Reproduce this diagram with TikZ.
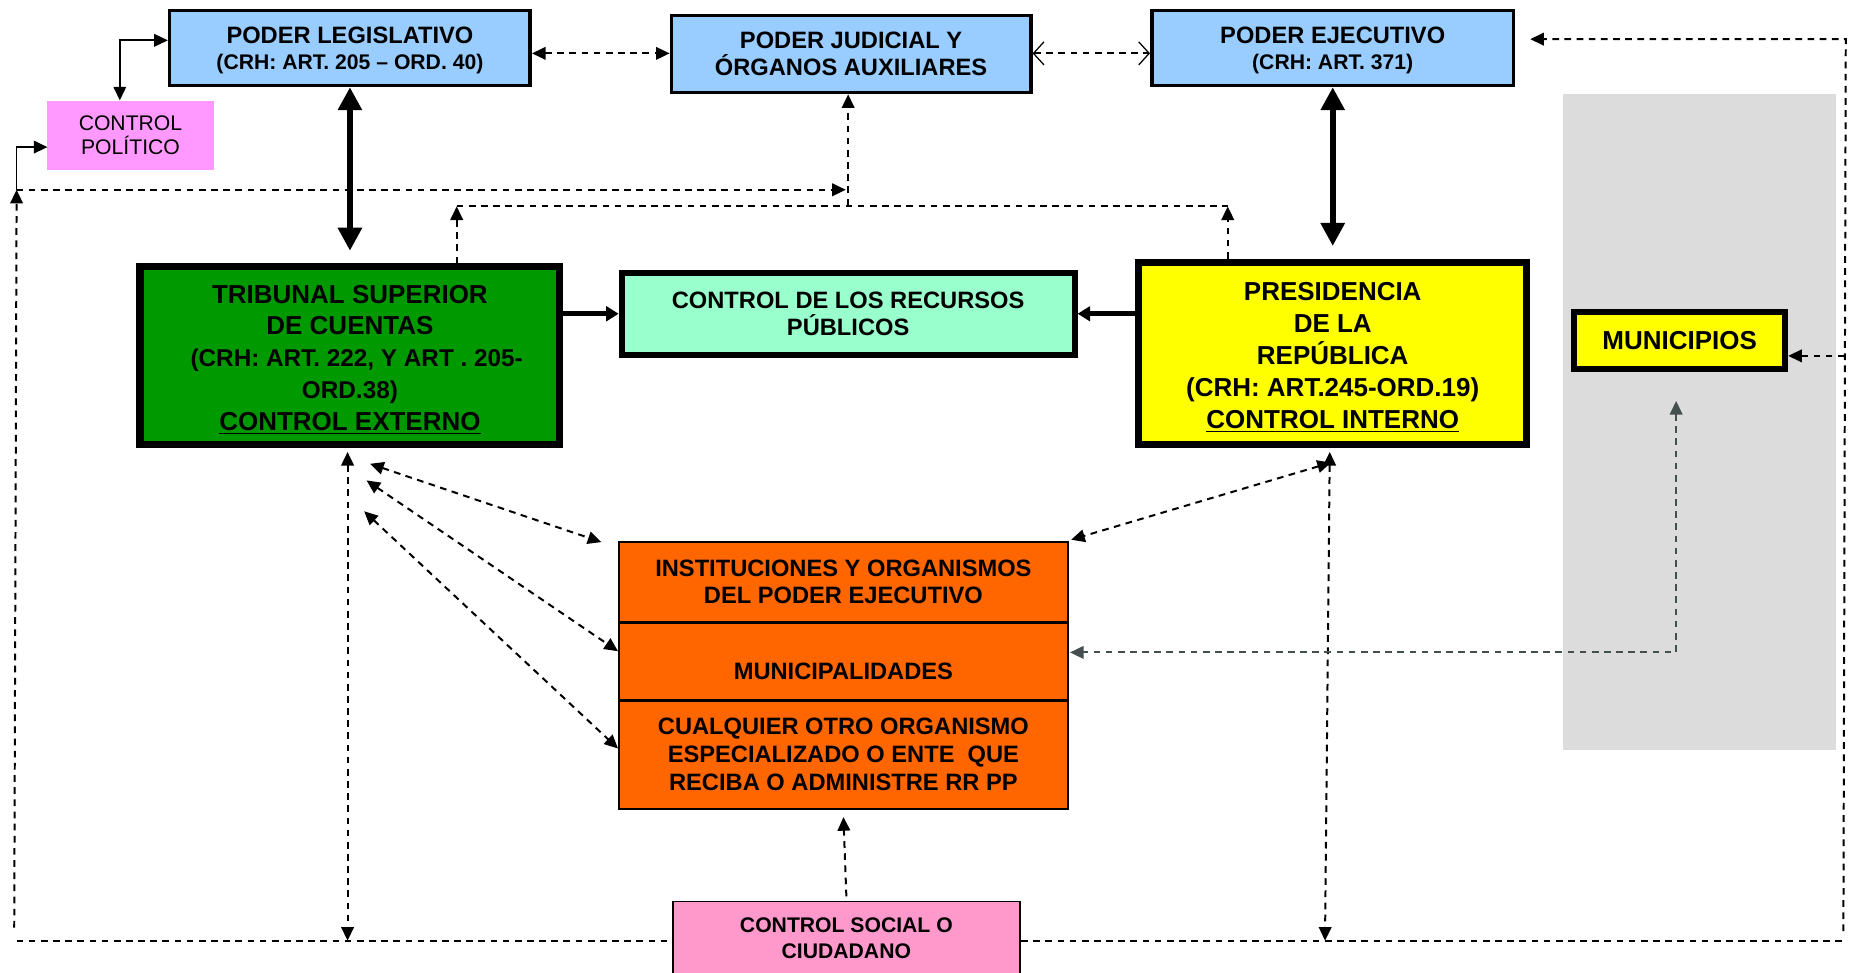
\documentclass[tikz,border=0pt]{standalone}
\usepackage{fontspec}
\setmainfont{Liberation Sans}
\usetikzlibrary{arrows.meta}
\definecolor{lblue}{HTML}{99CCFF}
\definecolor{cpink}{HTML}{FF99FF}
\definecolor{spink}{HTML}{FF99CC}
\definecolor{tgreen}{HTML}{009900}
\definecolor{mint}{HTML}{99FFCC}
\definecolor{yel}{HTML}{FFFF00}
\definecolor{orng}{HTML}{FF6600}
\definecolor{lgray}{HTML}{DCDCDC}
\definecolor{slate}{HTML}{44504F}
\begin{document}
\begin{tikzpicture}[x=0.0199cm,y=-0.0199cm,
  box/.style={inner sep=0pt,align=center,text=black},
  sz/.style 2 args={minimum width={#1*0.0199cm},minimum height={#2*0.0199cm}},
  fa/.style={font=\bfseries\fontsize{11.3}{13.2}\selectfont},
  fb/.style={font=\bfseries\fontsize{12.4}{15.2}\selectfont},
  fc/.style={font=\bfseries\fontsize{10.1}{12.4}\selectfont},
  dsh/.style={line width=0.95pt,dash pattern=on 3.2pt off 2.6pt},
  tip/.tip={Triangle[length=6.5pt,width=6pt]},
  otip/.tip={Straight Barb[length=5pt,width=11pt,line width=0.6pt]},
  bigarr/.style={line width=2.8pt,{Triangle[length=11pt,width=11pt]}-{Triangle[length=11pt,width=11pt]}},
  medarr/.style={line width=2.2pt,-{Triangle[length=6pt,width=7pt]}}
]
\useasboundingbox (0,0) rectangle (1568,820);
% background panel
\fill[lgray] (1318,79) rectangle (1548,632);
% boxes
\node[box,fa,draw,line width=1.7pt,fill=lblue,sz={304}{63}] (leg) at (295,40.5)
  {\rule{0pt}{10pt}PODER LEGISLATIVO\\[-1pt]{\fontsize{10.1}{12}\selectfont(CRH: ART. 205 – ORD. 40)}};
\node[box,fa,draw,line width=1.7pt,fill=lblue,sz={303}{65}] (jud) at (717.5,45.5)
  {PODER JUDICIAL Y\\ÓRGANOS AUXILIARES};
\node[box,fa,draw,line width=1.7pt,fill=lblue,sz={305}{63}] (ejec) at (1123.5,40.5)
  {\rule{0pt}{10pt}PODER EJECUTIVO\\[-1pt]{\fontsize{10.1}{12}\selectfont(CRH: ART. 371)}};
\node[box,fill=cpink,font=\fontsize{10.1}{11.9}\selectfont,sz={140}{58}] (cp) at (110,114)
  {CONTROL\\POLÍTICO};
\node[box,fb,draw,line width=3.4pt,fill=tgreen,sz={354}{150}] (tsc) at (295,300)
  {\rule{0pt}{12.6pt}TRIBUNAL SUPERIOR\\DE CUENTAS\\{\fontsize{11.6}{15.2}\selectfont\ \ (CRH: ART. 222, Y ART . 205-}\\{\fontsize{11.6}{15.2}\selectfont ORD.38)}\\\underline{CONTROL EXTERNO}};
\node[box,fa,draw,line width=2.8pt,fill=mint,sz={382}{69}] (rec) at (715,264.5)
  {CONTROL DE LOS RECURSOS\\PÚBLICOS};
\node[box,fb,draw,line width=3.4pt,fill=yel,sz={327}{154}] (pres) at (1123.5,298)
  {\rule{0pt}{12.6pt}PRESIDENCIA\\DE LA\\REPÚBLICA\\(CRH: ART.245-ORD.19)\\\underline{CONTROL INTERNO}};
\node[box,fb,draw,line width=2.8pt,fill=yel,sz={178}{48}] (mun) at (1416,287)
  {MUNICIPIOS};
\node[box,fa,draw,line width=0.9pt,fill=orng,sz={378}{67}] (inst) at (711,490.5)
  {INSTITUCIONES Y ORGANISMOS\\DEL PODER EJECUTIVO};
\node[box,draw,line width=0.9pt,fill=orng,sz={378}{66}] (muni) at (711,557) {};
\node[box,fa] (munitext) at (711,566) {MUNICIPALIDADES};
\node[box,fa,draw,line width=0.9pt,fill=orng,sz={378}{92}] (cual) at (711,636)
  {CUALQUIER OTRO ORGANISMO\\ESPECIALIZADO O ENTE\ \ QUE\\RECIBA O ADMINISTRE RR PP};
\draw[line width=1.6pt] (inst.south west) -- (inst.south east);
\draw[line width=1.6pt] (muni.south west) -- (muni.south east);
\node[box,fc,draw,line width=0.9pt,fill=spink,sz={293}{62}] (cs) at (713.5,791)
  {CONTROL SOCIAL O\\CIUDADANO};
% coordinates
\coordinate (xa) at (385,174);
\coordinate (xb) at (1035,174);
\coordinate (xj) at (715,173);
\coordinate (ya) at (14,160);
\coordinate (yj) at (713,160);
\coordinate (cpl) at (40,124);
\coordinate (cpb) at (101,34);
\coordinate (lbt) at (12,782);
\coordinate (lb) at (14,793);
\coordinate (rb) at (1555,793);
\coordinate (rbt) at (1554,785);
\coordinate (rt) at (1556,33);
\coordinate (rm) at (1555,300);
\coordinate (ejr) at (1290,33);
\coordinate (mg) at (1413,550);
\coordinate (mgt) at (1413,338);
\coordinate (mge) at (902,550);
\coordinate (tb) at (293,381);
\coordinate (b293) at (293,793);
\coordinate (pb) at (1121,381);
\coordinate (b1118) at (1117,793);
\coordinate (t1) at (312,391);
\coordinate (t2) at (309,405);
\coordinate (t3) at (307,431);
\coordinate (i1) at (507,457);
\coordinate (m1) at (521,549);
\coordinate (c1) at (521,631);
\coordinate (p1) at (1122,390);
\coordinate (i2) at (903,455);
\coordinate (lj) at (0,45);
% thick arrows
\draw[bigarr,shorten >=6pt] (leg.south) -- (tsc.north);
\draw[bigarr,shorten >=6pt] (ejec.south) -- (pres.north);
\draw[medarr] (tsc.east |- rec.west) -- (rec.west);
\draw[medarr] (pres.west |- rec.east) -- (rec.east);
% top dashed
\draw[dsh,tip-tip] (leg.east |- lj) -- (jud.west |- lj);
\draw[dsh,otip-otip] (jud.east |- lj) -- (ejec.west |- lj);
\draw[line width=0.8pt,tip-tip] (cp.north -| cpb) -- (cpb) -- (cpb -| leg.west);
\draw[line width=0.8pt,-tip] (ya) |- (cpl);
\draw[dsh,-tip] (ya) -- (yj);
\draw[dsh,-tip] (xj) -- (xj |- jud.south);
\draw[dsh,-tip] (xa |- tsc.north) -- (xa);
\draw[dsh,-tip] (xb |- pres.north) -- (xb);
\draw[dsh] (xa) -- (xb);
% outer loop
\draw[dsh,-tip] (lbt) -- (ya);
\draw[dsh] (lb) -- (lb -| cs.west);
\draw[dsh] (lb -| cs.east) -- (rb);
\draw[dsh,-tip] (rbt) -- (rt) -- (ejr);
\draw[dsh,-tip] (rm) -- (mun.east |- rm);
% verticals to bottom
\draw[dsh,tip-tip] (tb) -- (b293);
\draw[dsh,tip-tip] (pb) -- (b1118);
% diagonals
\draw[dsh,tip-tip] (t1) -- (i1);
\draw[dsh,tip-tip] (t2) -- (m1);
\draw[dsh,tip-tip] (t3) -- (c1);
\draw[dsh,tip-tip] (p1) -- (i2);
% municipios
\draw[dsh,slate,tip-tip] (mgt) -- (mg) -- (mge);
% control social
\draw[dsh,-tip] ([yshift=2pt]cs.north) -- ([yshift=-3.4pt]cual.south);
\end{tikzpicture}
\end{document}
